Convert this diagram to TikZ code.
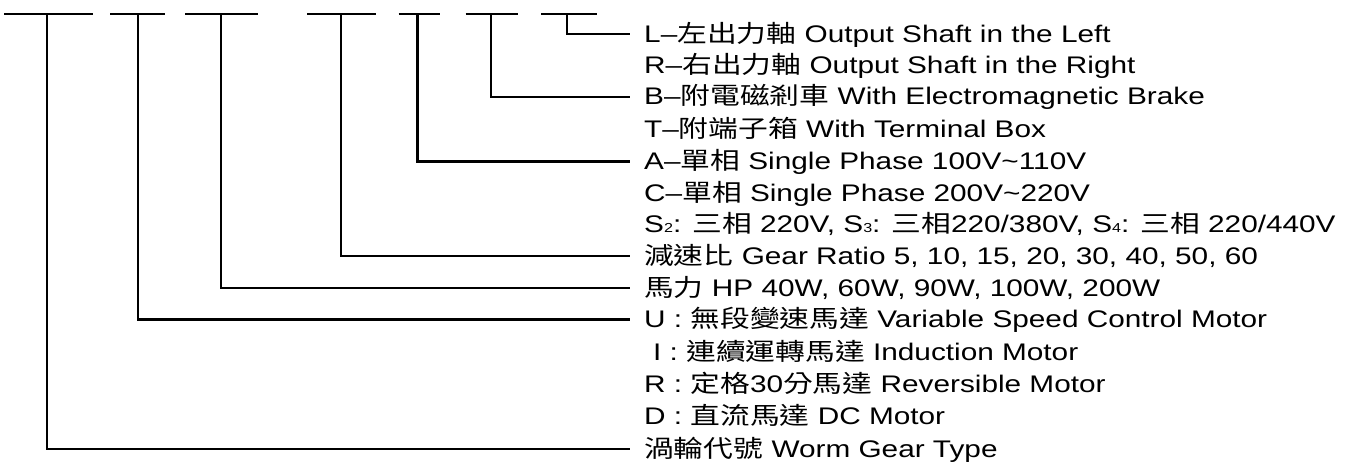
\documentclass[tikz,border=0pt]{standalone}
\usepackage{fontspec}
\setmainfont{Liberation Sans}[FakeStretch=1.24]
\newfontfamily\cjkfont{Noto Sans CJK TC}[FakeStretch=1.24]
\newcommand{\cj}[1]{{\cjkfont #1}}
\newcommand{\smdig}[1]{{\fontsize{13}{13}\selectfont #1}}
\begin{document}
\begin{tikzpicture}[x=1pt,y=-1pt,
  lbl/.style={anchor=west, inner sep=0pt, text height=18pt, text depth=2pt, font=\fontsize{24}{28}\selectfont},
  ln/.style={line width=2.2pt},
  conn/.style={line width=2.2pt}]
\useasboundingbox (0,0) rectangle (1351,461);
% top bars
\draw[ln] (4,14) -- (93,14);
\draw[ln] (110,14) -- (164.7,14);
\draw[ln] (185,14) -- (257.7,14);
\draw[ln] (307,14) -- (376,14);
\draw[ln] (398.7,14) -- (440,14);
\draw[ln] (465.7,14) -- (517.7,14);
\draw[ln] (541.3,14) -- (596.7,14);
\coordinate (v1) at (46.7,14);
\coordinate (v2) at (138.3,14);
\coordinate (v3) at (220.7,14);
\coordinate (v4) at (341,14);
\coordinate (v5) at (417.5,14);
\coordinate (v6) at (491,14);
\coordinate (v7) at (567.3,14);
% labels
\node[lbl] (l1) at (644,34) {L–\cj{左出力軸} Output Shaft in the Left};
\node[lbl] (l2) at (644,65.5) {R–\cj{右出力軸} Output Shaft in the Right};
\node[lbl] (l3) at (644,96.8) {B–\cj{附電磁剎車} With Electromagnetic Brake};
\node[lbl] (l4) at (644,129) {T–\cj{附端子箱} With Terminal Box};
\node[lbl] (l5) at (644,161.5) {A–\cj{單相} Single Phase 100V\textasciitilde110V};
\node[lbl] (l6) at (644,193) {C–\cj{單相} Single Phase 200V\textasciitilde220V};
\node[lbl] (l7) at (644,224.5) {S\smdig{2}: \cj{三相} 220V, S\smdig{3}: \cj{三相}220/380V, S\smdig{4}: \cj{三相} 220/440V};
\node[lbl] (l8) at (644,256) {\cj{減速比} Gear Ratio 5, 10, 15, 20, 30, 40, 50, 60};
\node[lbl] (l9) at (644,288.3) {\cj{馬力} HP 40W, 60W, 90W, 100W, 200W};
\node[lbl] (l10) at (644,319.5) {U : \cj{無段變速馬達} Variable Speed Control Motor};
\node[lbl] (l11) at (644,352) {\hspace{9pt}I : \cj{連續運轉馬達} Induction Motor};
\node[lbl] (l12) at (644,384) {R : \cj{定格}30\cj{分馬達} Reversible Motor};
\node[lbl] (l13) at (644,416) {D : \cj{直流馬達} DC Motor};
\node[lbl] (l14) at (644,449) {\cj{渦輪代號} Worm Gear Type};
% connectors
\draw[conn] (v7) |- ([xshift=-14pt]l1.west);
\draw[conn] (v6) |- ([xshift=-14pt]l3.west);
\draw[conn] (v5) |- ([xshift=-14pt]l5.west);
\draw[conn] (v4) |- ([xshift=-14pt]l8.west);
\draw[conn] (v3) |- ([xshift=-14pt]l9.west);
\draw[conn] (v2) |- ([xshift=-14pt]l10.west);
\draw[conn] (v1) |- ([xshift=-14pt]l14.west);
\end{tikzpicture}
\end{document}
